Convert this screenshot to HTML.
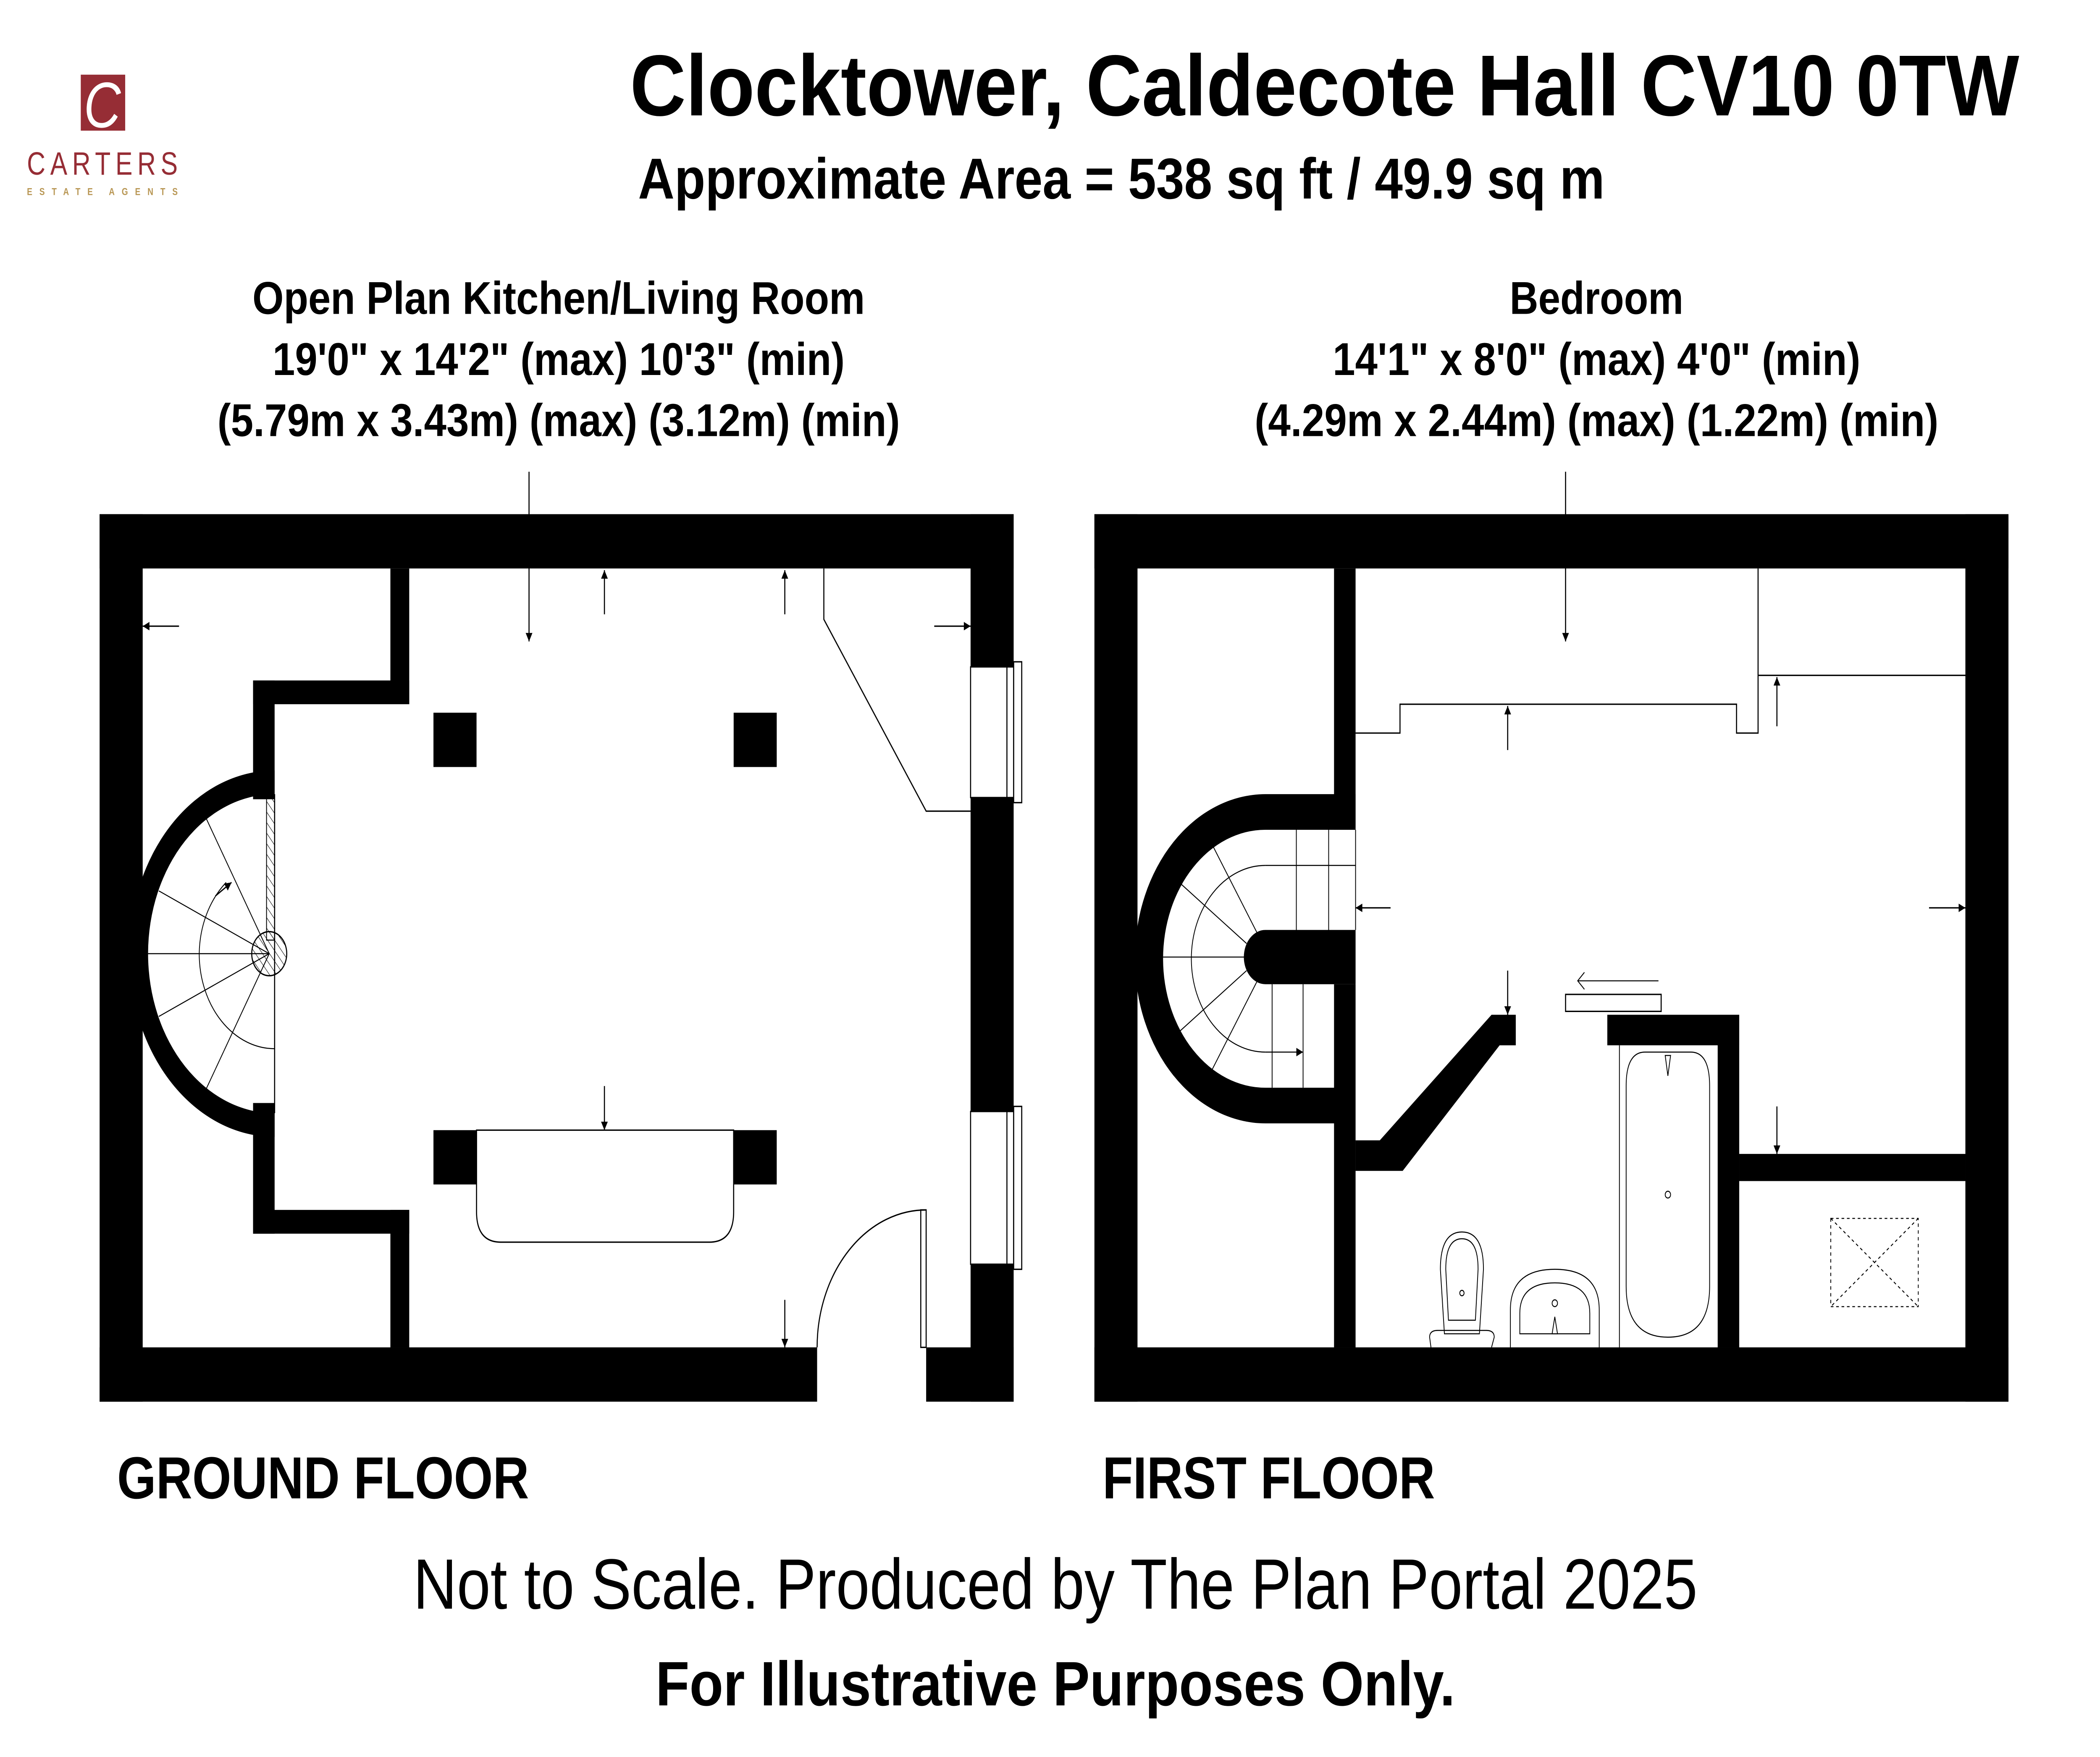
<!DOCTYPE html>
<html><head><meta charset="utf-8"><style>
html,body{margin:0;padding:0;background:#fff;width:100vw;height:100vh;overflow:hidden}
svg{display:block;width:100vw;height:100vh}
text{font-family:"Liberation Sans",Arial,sans-serif}
</style></head><body>
<svg viewBox="0 0 1560 1035.4" preserveAspectRatio="none" xmlns="http://www.w3.org/2000/svg">
<defs>
<marker id="ah" viewBox="0 0 10 10" refX="10" refY="5" markerWidth="8" markerHeight="5" markerUnits="userSpaceOnUse" orient="auto"><path d="M0,0L10,5L0,10z" fill="#000"/></marker>
<pattern id="hatch" width="4" height="4" patternUnits="userSpaceOnUse" patternTransform="rotate(-40)"><line x1="0" y1="0" x2="0" y2="4" stroke="#000" stroke-width="0.6"/></pattern>
</defs>
<rect width="1560" height="1035.4" fill="#fff"/>

<rect x="60" y="44" width="33" height="33" fill="#962d35"/>
<text x="76" y="75" font-family="Liberation Serif,serif" font-style="italic" font-size="38" fill="#fff" text-anchor="middle">C</text>
<text x="20" y="103" font-size="19" fill="#962d35" textLength="112" lengthAdjust="spacing">CARTERS</text>
<text x="20" y="115" font-size="6" fill="#b89653" font-weight="bold" textLength="112" lengthAdjust="spacing">ESTATE AGENTS</text>

<text x="468" y="68" font-size="51" font-weight="bold" textLength="1032" lengthAdjust="spacingAndGlyphs">Clocktower, Caldecote Hall CV10 0TW</text>
<text x="474" y="117" font-size="34" font-weight="bold" textLength="718" lengthAdjust="spacingAndGlyphs">Approximate Area = 538 sq ft / 49.9 sq m</text>

<g font-size="27" font-weight="bold" text-anchor="middle">
<text x="415" y="185" textLength="455" lengthAdjust="spacingAndGlyphs">Open Plan Kitchen/Living Room</text>
<text x="415" y="221" textLength="425" lengthAdjust="spacingAndGlyphs">19'0" x 14'2" (max) 10'3" (min)</text>
<text x="415" y="257" textLength="507" lengthAdjust="spacingAndGlyphs">(5.79m x 3.43m) (max) (3.12m) (min)</text>
<text x="1186" y="185" textLength="129" lengthAdjust="spacingAndGlyphs">Bedroom</text>
<text x="1186" y="221" textLength="392" lengthAdjust="spacingAndGlyphs">14'1" x 8'0" (max) 4'0" (min)</text>
<text x="1186" y="257" textLength="508" lengthAdjust="spacingAndGlyphs">(4.29m x 2.44m) (max) (1.22m) (min)</text>
</g>

<text x="87" y="883" font-size="35" font-weight="bold" textLength="306" lengthAdjust="spacingAndGlyphs">GROUND FLOOR</text>
<text x="819" y="883" font-size="35" font-weight="bold" textLength="247" lengthAdjust="spacingAndGlyphs">FIRST FLOOR</text>
<text x="307" y="948" font-size="42" textLength="954" lengthAdjust="spacingAndGlyphs">Not to Scale. Produced by The Plan Portal 2025</text>
<text x="487" y="1005" font-size="37" font-weight="bold" textLength="594" lengthAdjust="spacingAndGlyphs">For Illustrative Purposes Only.</text>

<g fill="#000">
<rect x="74" y="303" width="679" height="32"/>
<rect x="74" y="303" width="32" height="523"/>
<rect x="74" y="794" width="533" height="32"/>
<rect x="688" y="794" width="65" height="32"/>
<rect x="721" y="303" width="32" height="90"/>
<rect x="721" y="470" width="32" height="185"/>
<rect x="721" y="745" width="32" height="81"/>
<rect x="290" y="335" width="14" height="80"/>
<rect x="188" y="401" width="116" height="14"/>
<rect x="188" y="401" width="16" height="70"/>
<rect x="188" y="650" width="16" height="77"/>
<rect x="188" y="713" width="116" height="14"/>
<rect x="290" y="713" width="14" height="81"/>
<path d="M204,454 A108,108 0 0 0 204,670 L204,656 A94,94 0 0 1 204,468 Z"/>
<rect x="322" y="420" width="32" height="32"/>
<rect x="545" y="420" width="32" height="32"/>
<rect x="322" y="666" width="32" height="32"/>
<rect x="545" y="666" width="32" height="32"/>
</g>
<g fill="none" stroke="#000" stroke-width="0.8">
<rect x="721" y="393" width="32" height="77" fill="#fff"/>
<line x1="748" y1="393" x2="748" y2="470"/>
<rect x="753" y="390" width="6" height="83" fill="#fff"/>
<rect x="721" y="655" width="32" height="90" fill="#fff"/>
<line x1="748" y1="655" x2="748" y2="745"/>
<rect x="753" y="652" width="6" height="96" fill="#fff"/>
<rect x="684" y="713" width="4" height="81"/>
<path d="M607,794 A81,81 0 0 1 688,713"/>
<path d="M612,335 L612,365 L688,478 L721,478"/>
<path d="M354,666 L354,714 Q354,732 372,732 L527,732 Q545,732 545,714 L545,666 Z"/>
<line x1="204" y1="468" x2="204" y2="656"/>
<g stroke-width="0.6">
<line x1="200" y1="562" x2="110" y2="562"/>
<line x1="200" y1="562" x2="118" y2="525"/>
<line x1="200" y1="562" x2="118" y2="599"/>
<line x1="200" y1="562" x2="153" y2="482"/>
<line x1="200" y1="562" x2="153" y2="642"/>
<path d="M204,618 A56,56 0 0 1 148,562 A56,56 0 0 1 168,520"/>
</g>
<rect x="198" y="470" width="6" height="84" fill="url(#hatch)" stroke-width="0.6"/>
<circle cx="200" cy="562" r="13" fill="url(#hatch)"/>
<line x1="393" y1="278" x2="393" y2="378" marker-end="url(#ah)"/>
<line x1="449" y1="362" x2="449" y2="336" marker-end="url(#ah)"/>
<line x1="583" y1="362" x2="583" y2="336" marker-end="url(#ah)"/>
<line x1="133" y1="369" x2="106" y2="369" marker-end="url(#ah)"/>
<line x1="694" y1="369" x2="721" y2="369" marker-end="url(#ah)"/>
<line x1="449" y1="640" x2="449" y2="666" marker-end="url(#ah)"/>
<line x1="583" y1="766" x2="583" y2="794" marker-end="url(#ah)"/>
<line x1="160" y1="528" x2="172" y2="520" marker-end="url(#ah)"/>
</g>

<g fill="#000">
<rect x="813" y="303" width="679" height="32"/>
<rect x="813" y="303" width="32" height="523"/>
<rect x="813" y="794" width="679" height="32"/>
<rect x="1460" y="303" width="32" height="523"/>
<rect x="991" y="335" width="16" height="154"/>
<path d="M940,468 L1007,468 L1007,489 L940,489 A76,76 0 0 0 940,641 L991,641 L991,580 L1007,580 L1007,794 L991,794 L991,662 L940,662 A97,97 0 0 1 940,468 Z"/>
<path d="M940,548 L1007,548 L1007,580 L940,580 A16,16 0 0 1 940,548 Z"/>
<path d="M1007,672 L1025,672 L1108,598 L1126,598 L1126,616 L1114,616 L1042,690 L1007,690 Z"/>
<rect x="1194" y="598" width="98" height="18"/>
<rect x="1276" y="598" width="16" height="196"/>
<rect x="1292" y="680" width="168" height="16"/>
</g>
<g fill="none" stroke="#000" stroke-width="0.8">
<path d="M1007,432 L1040,432 L1040,415 L1290,415 L1290,432 L1306,432 L1306,335"/>
<line x1="1306" y1="398" x2="1460" y2="398"/>
<g stroke-width="0.6">
<line x1="1007" y1="489" x2="1007" y2="548"/>
<line x1="963" y1="489" x2="963" y2="548"/>
<line x1="987" y1="489" x2="987" y2="548"/>
<line x1="940" y1="510" x2="1007" y2="510"/>
<line x1="945" y1="580" x2="945" y2="641"/>
<line x1="968" y1="580" x2="968" y2="641"/>
<line x1="925" y1="564" x2="864" y2="564"/>
<line x1="926" y1="556" x2="876" y2="520"/>
<line x1="926" y1="572" x2="876" y2="608"/>
<line x1="934" y1="550" x2="900" y2="497"/>
<line x1="934" y1="578" x2="900" y2="631"/>
<path d="M940,510 A55,55 0 0 0 940,620"/>
<line x1="940" y1="620" x2="968" y2="620" marker-end="url(#ah)"/>
</g>
<rect x="1163" y="586" width="71" height="10"/>
<path d="M1232,578 L1172,578 M1177,573 L1172,578 L1177,583" stroke-width="0.6"/>
<line x1="1203" y1="616" x2="1203" y2="794" stroke-width="0.6"/>
<path d="M1208,640 Q1208,620 1222,620 L1256,620 Q1270,620 1270,640 L1270,758 Q1270,788 1239,788 Q1208,788 1208,758 Z" stroke-width="0.6"/>
<circle cx="1239" cy="704" r="2" stroke-width="0.6"/>
<path d="M1237,622 L1239,634 L1241,622 Z" stroke-width="0.6"/>
<path d="M1073,786 L1070,748 Q1070,726 1086,726 Q1102,726 1102,748 L1099,786 Z" stroke-width="0.6"/>
<path d="M1076,778 L1074,748 Q1074,730 1086,730 Q1098,730 1098,748 L1096,778 Z" stroke-width="0.6"/>
<path d="M1063,794 L1062,788 Q1062,784 1068,784 L1104,784 Q1110,784 1110,788 L1108,794" stroke-width="0.6"/>
<circle cx="1086" cy="762" r="1.6" stroke-width="0.6"/>
<path d="M1122,794 L1122,772 Q1122,748 1155,748 Q1188,748 1188,772 L1188,794" stroke-width="0.6"/>
<path d="M1129,786 L1129,774 Q1129,756 1155,756 Q1181,756 1181,774 L1181,786 Z" stroke-width="0.6"/>
<circle cx="1155" cy="768" r="2" stroke-width="0.6"/>
<path d="M1153,786 L1155,776 L1157,786 Z" stroke-width="0.6"/>
<rect x="1360" y="718" width="65" height="52" stroke-dasharray="2,2" stroke-width="0.6"/>
<path d="M1360,718 L1425,770 M1425,718 L1360,770" stroke-dasharray="2,2" stroke-width="0.6"/>
<line x1="1163" y1="278" x2="1163" y2="378" marker-end="url(#ah)"/>
<line x1="1120" y1="442" x2="1120" y2="416" marker-end="url(#ah)"/>
<line x1="1320" y1="428" x2="1320" y2="399" marker-end="url(#ah)"/>
<line x1="1033" y1="535" x2="1007" y2="535" marker-end="url(#ah)"/>
<line x1="1433" y1="535" x2="1460" y2="535" marker-end="url(#ah)"/>
<line x1="1120" y1="572" x2="1120" y2="598" marker-end="url(#ah)"/>
<line x1="1320" y1="652" x2="1320" y2="680" marker-end="url(#ah)"/>
</g>
</svg>
</body></html>
